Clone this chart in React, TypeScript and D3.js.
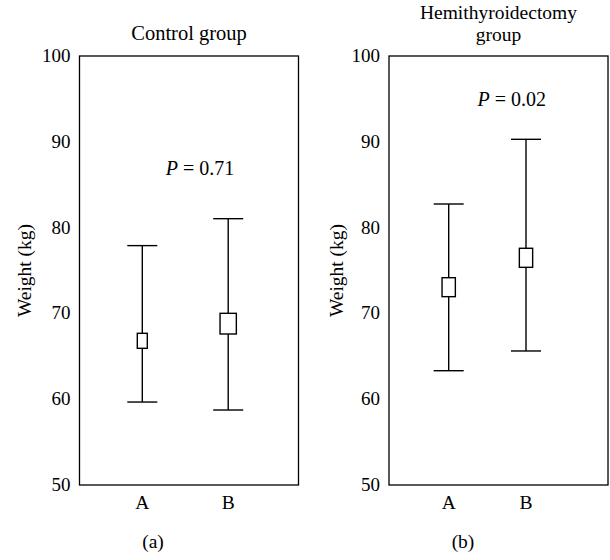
import React from "react";
import * as d3 from "d3";

const categories = ["A", "B"];
const yTicks = [50, 60, 70, 80, 90, 100];

// Control group
const controlLow = [59.67, 58.74];
const controlHigh = [77.9, 81.04];
const controlBoxLow = [65.93, 67.6];
const controlBoxHigh = [67.68, 70.01];

// Hemithyroidectomy group
const hemiLow = [63.32, 65.62];
const hemiHigh = [82.75, 90.29];
const hemiBoxLow = [71.95, 75.37];
const hemiBoxHigh = [74.16, 77.59];

const pLabels = ["0.71", "0.02"];
const pY = [86.15, 94.2];

const FONT = "'Liberation Serif', 'Times New Roman', serif";

type PanelProps = {
  x0: number;
  title: string[];
  low: number[];
  high: number[];
  boxLow: number[];
  boxHigh: number[];
  boxW: number[];
  catRange: [number, number];
  pText: string;
  pVal: number;
  pX: number;
  tag: string;
  tagX: number;
  ylabX: number;
};

const TOP = 56;
const BOTTOM = 485;
const W = 219;

function Panel(p: PanelProps) {
  const y = d3.scaleLinear().domain([50, 100]).range([BOTTOM, TOP]);
  const x = d3.scalePoint<string>().domain(categories).range(p.catRange);
  const cap = 30;
  const sw = 1.4;
  const titleY = p.title.length > 1 ? 40.5 : 39.5;
  const lineH = 22;
  const cxTitle = p.x0 + W / 2;
  const titleSize = p.title.length > 1 ? 19.5 : 20.5;
  return (
    <g>
      <rect x={p.x0} y={TOP} width={W} height={BOTTOM - TOP} fill="none" stroke="#000" strokeWidth={1.3} />
      {p.title.map((t, i) => (
        <text key={t} x={cxTitle} y={titleY - (p.title.length - 1 - i) * lineH} textAnchor="middle" fontSize={titleSize} fontFamily={FONT}>
          {t}
        </text>
      ))}
      {yTicks.map((t) => (
        <text key={t} x={p.x0 - 9} y={y(t) + 6} textAnchor="end" fontSize={19} fontFamily={FONT}>
          {t}
        </text>
      ))}
      <text transform={`translate(${p.ylabX},${(TOP + BOTTOM) / 2}) rotate(-90)`} textAnchor="middle" fontSize={19.5} fontFamily={FONT}>
        Weight (kg)
      </text>
      {categories.map((c, i) => {
        const cx = x(c) as number;
        const bw = p.boxW[i];
        return (
          <g key={c}>
            <line x1={cx} x2={cx} y1={y(p.high[i])} y2={y(p.low[i])} stroke="#000" strokeWidth={sw} />
            <line x1={cx - cap / 2} x2={cx + cap / 2} y1={y(p.high[i])} y2={y(p.high[i])} stroke="#000" strokeWidth={sw} />
            <line x1={cx - cap / 2} x2={cx + cap / 2} y1={y(p.low[i])} y2={y(p.low[i])} stroke="#000" strokeWidth={sw} />
            <rect x={cx - bw / 2} y={y(p.boxHigh[i])} width={bw} height={y(p.boxLow[i]) - y(p.boxHigh[i])} fill="#fff" stroke="#000" strokeWidth={sw} />
            <text x={cx} y={BOTTOM + 24} textAnchor="middle" fontSize={19.5} fontFamily={FONT}>
              {c}
            </text>
          </g>
        );
      })}
      <text x={p.pX} y={y(p.pVal)} textAnchor="middle" fontSize={20} fontFamily={FONT}>
        <tspan fontStyle="italic">P</tspan> = {p.pText}
      </text>
      <text x={p.tagX} y={548} textAnchor="middle" fontSize={19.5} fontFamily={FONT}>
        {p.tag}
      </text>
    </g>
  );
}

export default function App() {
  return (
    <svg width={610} height={560} style={{ position: "absolute", left: 0, top: 0, background: "#fff" }}>
      <rect width={610} height={560} fill="#fff" />
      <Panel
        x0={79.5}
        title={["Control group"]}
        low={controlLow}
        high={controlHigh}
        boxLow={controlBoxLow}
        boxHigh={controlBoxHigh}
        boxW={[10, 16.3]}
        catRange={[142.3, 228.2]}
        pText={pLabels[0]}
        pVal={pY[0]}
        pX={200}
        tag="(a)"
        tagX={153}
        ylabX={31}
      />
      <Panel
        x0={389}
        title={["Hemithyroidectomy", "group"]}
        low={hemiLow}
        high={hemiHigh}
        boxLow={hemiBoxLow}
        boxHigh={hemiBoxHigh}
        boxW={[13.3, 13.3]}
        catRange={[448.7, 526]}
        pText={pLabels[1]}
        pVal={pY[1]}
        pX={511.7}
        tag="(b)"
        tagX={463}
        ylabX={343}
      />
    </svg>
  );
}
